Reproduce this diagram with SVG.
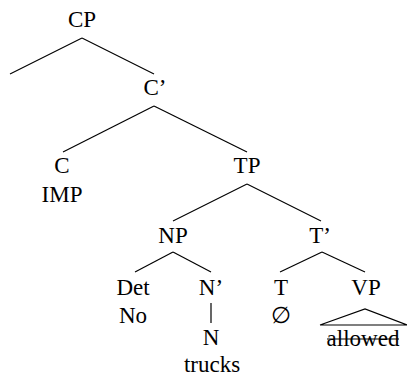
<svg xmlns="http://www.w3.org/2000/svg" width="407" height="377" viewBox="0 0 407 377">
<rect width="407" height="377" fill="#fff"/>
<g id="connectors" stroke="#000" stroke-width="1.2" fill="none">
<line x1="82" y1="38" x2="10" y2="74"/>
<line x1="82" y1="38" x2="154" y2="74"/>
<line x1="154" y1="106" x2="63" y2="152"/>
<line x1="154" y1="106" x2="247" y2="152"/>
<line x1="247" y1="184" x2="173" y2="221"/>
<line x1="247" y1="184" x2="321" y2="221"/>
<line x1="173" y1="252" x2="135" y2="272"/>
<line x1="173" y1="252" x2="211" y2="272"/>
<line x1="211" y1="303" x2="211" y2="323"/>
<line x1="322" y1="252" x2="280" y2="272"/>
<line x1="322" y1="252" x2="365" y2="272"/>
<polyline points="320,325 365,309 407,325 320,325"/>
<line x1="327" y1="339" x2="399" y2="339"/>
</g>
<g font-family="'Liberation Serif', serif" font-size="23" text-anchor="middle">
<g id="CP"><text x="82" y="27">CP</text></g>
<g id="Cbar"><text x="155" y="95">C’</text></g>
<g id="C"><text x="62" y="173">C</text><text x="62" y="202">IMP</text></g>
<g id="TP"><text x="247" y="173">TP</text></g>
<g id="NP"><text x="173" y="243">NP</text></g>
<g id="Tbar"><text x="320" y="243">T’</text></g>
<g id="Det"><text x="133" y="295">Det</text><text x="133" y="323">No</text></g>
<g id="Nbar"><text x="211" y="295">N’</text></g>
<g id="N"><text x="211" y="345">N</text><text x="212" y="372">trucks</text></g>
<g id="T"><text x="281" y="295">T</text><text x="281" y="323">∅</text></g>
<g id="VP"><text x="366" y="295">VP</text><text x="363" y="346">allowed</text></g>
</g>
</svg>
